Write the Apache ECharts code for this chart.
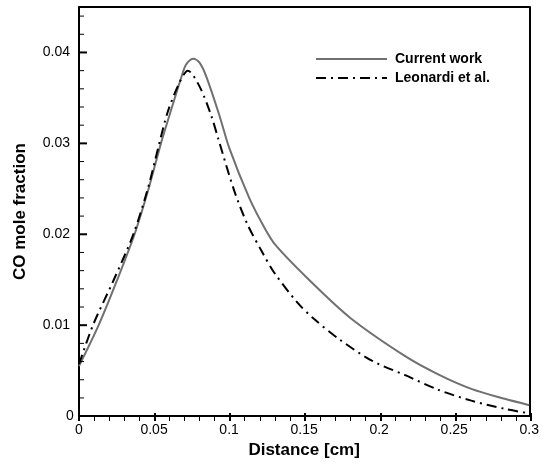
<!DOCTYPE html>
<html>
<head>
<meta charset="utf-8">
<script src="https://cdn.jsdelivr.net/npm/echarts@6/dist/echarts.min.js"></script>
<style>
html,body{margin:0;padding:0;background:#fff;}
#chart{width:542px;height:464px;}
</style>
</head>
<body>
<div id="chart"></div>
<script>
const currentX = [0, 0.0131, 0.0255, 0.037, 0.0465, 0.0546, 0.0603, 0.0692, 0.0714, 0.0762, 0.0802, 0.0847, 0.0935, 0.1001, 0.1134, 0.1233, 0.131, 0.1532, 0.1808, 0.2173, 0.2393, 0.2614, 0.2836, 0.3];
const currentY = [0.0055, 0.0100, 0.0150, 0.0200, 0.0251, 0.0300, 0.0331, 0.0378, 0.0387, 0.0393, 0.0389, 0.0374, 0.0331, 0.0295, 0.0240, 0.0208, 0.0188, 0.0150, 0.0108, 0.0066, 0.0046, 0.0030, 0.0019, 0.0012];
const leonardiX = [0, 0.0093, 0.0232, 0.0362, 0.046, 0.0535, 0.0592, 0.067, 0.0725, 0.0802, 0.088, 0.0928, 0.1034, 0.1122, 0.1222, 0.13, 0.1454, 0.1565, 0.173, 0.1951, 0.2173, 0.2393, 0.2614, 0.2836, 0.3];
const leonardiY = [0.0057, 0.0100, 0.0150, 0.0200, 0.0251, 0.0300, 0.0335, 0.0367, 0.0380, 0.0363, 0.0331, 0.0305, 0.0248, 0.0211, 0.0180, 0.0158, 0.0125, 0.0107, 0.0085, 0.0061, 0.0045, 0.0029, 0.0017, 0.0008, 0.0003];
const seriesNames = ['Current work', 'Leonardi et al.'];
const xAxisTitle = 'Distance [cm]';
const yAxisTitle = 'CO mole fraction';
const yMajorTickValues = [0.01, 0.02, 0.03, 0.04];
const yMinorTickValues = [0.002, 0.004, 0.006, 0.008, 0.012, 0.014, 0.016, 0.018, 0.022, 0.024, 0.026, 0.028, 0.032, 0.034, 0.036, 0.038, 0.042, 0.044];

const zip = (xs, ys) => xs.map((x, i) => [x, ys[i]]);
const FONT = 'Liberation Sans, Arial, sans-serif';
const X_MIN = 0, X_MAX = 0.3, X_STEP = 0.05;
const Y_MIN = 0, Y_MAX = 0.045, Y_STEP = 0.01;
const frameLine = {show: true, onZero: false, lineStyle: {color: '#000', width: 2}};
const noLabel = {show: false};
const off = {show: false};

// helper axes whose split lines act as inward-pointing x tick marks
const majorTickAxis = (gridIndex, min, max, step) => ({
  gridIndex, type: 'value', min, max, interval: step,
  axisLine: off, axisTick: off, axisLabel: noLabel,
  splitLine: {show: true, lineStyle: {color: '#000', width: 2}}
});
const minorTickAxis = (gridIndex, min, max, step) => ({
  gridIndex, type: 'value', min, max, interval: step,
  axisLine: off, axisTick: off, axisLabel: noLabel,
  splitLine: off,
  minorTick: {show: false, splitNumber: 5},
  minorSplitLine: {show: true, lineStyle: {color: '#000', width: 1}}
});
const dummyAxis = (gridIndex, min, max) => ({gridIndex, type: 'value', min, max, show: false});

// y tick marks drawn as small rect symbols sitting on the left axis
const tickSeries = (values, w, h) => ({
  type: 'scatter', xAxisIndex: 0, yAxisIndex: 0, silent: true, clip: false, z: 10,
  data: values.map(v => [X_MIN, v]),
  symbol: 'rect', symbolSize: [w, h], symbolOffset: [w / 2, 0],
  itemStyle: {color: '#000', opacity: 1},
  emphasis: {disabled: true}, tooltip: {show: false}
});

const chart = echarts.init(document.getElementById('chart'), null, {renderer: 'canvas'});
chart.setOption({
  animation: false,
  backgroundColor: '#fff',
  grid: [
    {left: 79, right: 11, top: 7, bottom: 43},       // 0 main plot
    {left: 79, right: 11, bottom: 43, height: 8},    // 1 x major ticks
    {left: 79, right: 11, bottom: 43, height: 5}     // 2 x minor ticks
  ],
  legend: {
    orient: 'vertical', left: 310, top: 47, itemWidth: 71, itemHeight: 14, itemGap: 5,
    itemStyle: {opacity: 0},
    textStyle: {fontFamily: FONT, fontWeight: 'bold', fontSize: 14, color: '#000', padding: [0, 0, 0, 3]},
    data: seriesNames
  },
  xAxis: [{
    gridIndex: 0, type: 'value', min: X_MIN, max: X_MAX, interval: X_STEP, position: 'bottom',
    name: xAxisTitle, nameLocation: 'middle', nameGap: 22,
    nameTextStyle: {fontFamily: FONT, fontWeight: 'bold', fontSize: 17, color: '#000'},
    axisLine: frameLine, axisTick: off,
    axisLabel: {show: true, fontFamily: FONT, fontSize: 14, color: '#000', margin: 7},
    splitLine: off
  }, {
    gridIndex: 0, type: 'value', min: X_MIN, max: X_MAX, position: 'top',
    axisLine: frameLine, axisTick: off, axisLabel: noLabel, splitLine: off
  },
    majorTickAxis(1, X_MIN, X_MAX, X_STEP),
    minorTickAxis(2, X_MIN, X_MAX, X_STEP)
  ],
  yAxis: [{
    gridIndex: 0, type: 'value', min: Y_MIN, max: Y_MAX, interval: Y_STEP, position: 'left',
    name: yAxisTitle, nameLocation: 'middle', nameGap: 50,
    nameTextStyle: {fontFamily: FONT, fontWeight: 'bold', fontSize: 17, color: '#000'},
    axisLine: frameLine, axisTick: off,
    axisLabel: {show: true, fontFamily: FONT, fontSize: 14, color: '#000', margin: 9, showMaxLabel: false, alignMinLabel: 'center'},
    splitLine: off
  }, {
    gridIndex: 0, type: 'value', min: Y_MIN, max: Y_MAX, position: 'right',
    axisLine: frameLine, axisTick: off, axisLabel: noLabel, splitLine: off
  },
    dummyAxis(1, Y_MIN, Y_MAX),
    dummyAxis(2, Y_MIN, Y_MAX)
  ],
  series: [
    {
      name: seriesNames[0], type: 'line', data: zip(currentX, currentY),
      xAxisIndex: 0, yAxisIndex: 0,
      showSymbol: false, symbol: 'none', smooth: 0.3,
      lineStyle: {color: '#707070', width: 2},
      itemStyle: {color: '#707070'}
    },
    {
      name: seriesNames[1], type: 'line', data: zip(leonardiX, leonardiY),
      xAxisIndex: 0, yAxisIndex: 0,
      showSymbol: false, symbol: 'none', smooth: 0.3,
      lineStyle: {color: '#000', width: 2, type: [10, 5, 2, 5]},
      itemStyle: {color: '#000'}
    },
    tickSeries(yMajorTickValues, 8, 2),
    tickSeries(yMinorTickValues, 5, 1)
  ]
});
</script>
</body>
</html>
